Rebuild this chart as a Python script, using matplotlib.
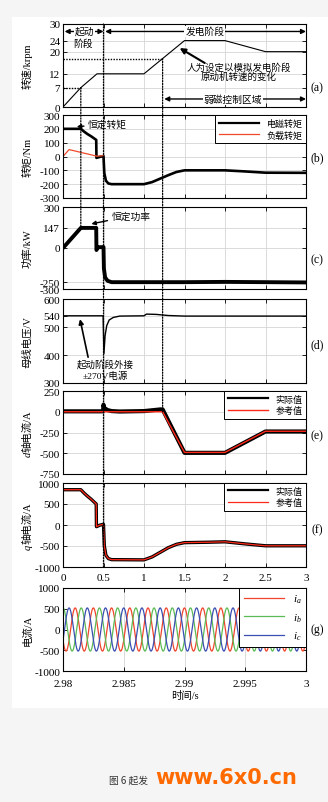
import numpy as np
import matplotlib
matplotlib.use("Agg")
import matplotlib.pyplot as plt
from matplotlib.patches import ConnectionPatch, Rectangle

plt.rcParams["font.family"] = ["Liberation Serif", "Noto Sans CJK SC"]
plt.rcParams["axes.unicode_minus"] = False
plt.rcParams["mathtext.fontset"] = "custom"
plt.rcParams["mathtext.it"] = "Liberation Serif:italic"

# (a) speed, krpm
t_speed = [0, 0.22, 0.42, 1.0, 1.5, 2.0, 2.5, 3.0]
speed = [0, 7, 12, 12, 24, 24, 20, 20]

# (b) electromagnetic / load torque, Nm
t_te = [0, 0.22, 0.26, 0.30, 0.35, 0.41, 0.413, 0.46, 0.50, 0.51, 0.53, 0.56, 0.60,
        1.0, 1.1, 1.2, 1.3, 1.4, 1.5, 2.0, 2.25, 2.5, 3.0]
te = [200, 200, 180, 163, 145, 120, -10, -2, 3, -120, -175, -195, -200,
      -200, -185, -160, -135, -112, -100, -100, -108, -117, -118]
t_tl = [0, 0.075, 0.42, 0.50]
tl = [0, 50, 2, 6]

# (c) power, kW
t_p = [0, 0.22, 0.41, 0.413, 0.43, 0.50, 0.505, 0.52, 0.55, 0.60, 1.5, 2.0, 3.0]
pw = [0, 147, 147, -15, 5, 7, -150, -215, -240, -250, -250, -248, -252]

# (d) DC bus voltage, V
t_v = [0, 0.495, 0.505, 0.52, 0.54, 0.57, 0.62, 0.70, 1.0, 1.03, 1.15, 1.3, 1.5, 3.0]
vdc = [540, 540, 405, 470, 505, 525, 534, 539, 540, 546, 545, 541, 539, 539]

# (e) d-axis current, A
t_id = [0, 0.495, 0.50, 0.51, 0.55, 0.60, 0.70, 1.0, 1.2, 1.23, 1.5, 2.0, 2.5, 3.0]
id_act = [5, 5, 85, 45, 20, 8, 3, 8, 28, 28, -495, -495, -238, -238]
t_id_ref = [0, 1.23, 1.5, 2.0, 2.5, 3.0]
id_ref = [0, 0, -490, -490, -235, -235]

# (f) q-axis current, A
t_iq = [0, 0.22, 0.26, 0.30, 0.35, 0.41, 0.413, 0.46, 0.50, 0.51, 0.53, 0.56, 0.60,
        1.0, 1.1, 1.2, 1.3, 1.4, 1.5, 1.8, 2.0, 2.25, 2.5, 3.0]
iq = [840, 840, 760, 690, 610, 500, -40, 0, 15, -500, -720, -800, -825,
      -830, -760, -650, -540, -460, -420, -410, -400, -450, -495, -495]

# (g) phase currents at the end of the run
f_abc = 667            # Hz
amp_abc = 520          # A
phase_abc = [-150, 90, -30]   # deg at t = 2.98 s
labels_abc = ["$i_a$", "$i_b$", "$i_c$"]
colors_abc = ["#f0452c", "#5cbb55", "#3b4fb2"]

H, W = 803, 328
fig = plt.figure(figsize=(W / 100, H / 100), dpi=100, facecolor="#f5f5f5")
fig.add_artist(Rectangle((12 / W, 1 - 709 / H), 1 - 12 / W, (709 - 18) / H,
                         transform=fig.transFigure, fc="white", ec="none", zorder=-5))


def add_ax(top, bottom):
    return fig.add_axes([63 / W, 1 - bottom / H, 243 / W, (bottom - top) / H])


def style(ax, xgrid_only=False):
    ax.tick_params(direction="in", top=True, right=True, labelsize=8, length=3,
                   width=0.6, pad=2)
    if xgrid_only:
        ax.grid(True, axis="x", color="#d6d6d6", lw=0.6)
    else:
        ax.grid(True, color="#d6d6d6", lw=0.6)
    ax.set_axisbelow(True)
    for s in ax.spines.values():
        s.set_linewidth(0.8)


LAB_X = -0.125


def split_ylabel(ax, sym, rest, y0=0.28):
    # italic axis letter below, the rest reading upward from it
    ax.text(LAB_X, y0, sym, transform=ax.transAxes, rotation=90, ha="right", va="top",
            fontsize=7.5, style="italic", family="Liberation Serif")
    ax.text(LAB_X, y0, rest, transform=ax.transAxes, rotation=90, ha="right", va="bottom",
            fontsize=7.5)


bounds = [(25, 108), (116, 199), (208, 290), (300, 384), (392, 475), (484, 568), (589, 672)]
axs = [add_ax(*b) for b in bounds]
ax_a, ax_b, ax_c, ax_d, ax_e, ax_f, ax_g = axs

for ax in axs[:6]:
    style(ax)
    ax.set_xlim(0, 3)
    ax.set_xticks(np.arange(0, 3.01, 0.5))
    if ax is not ax_f:
        ax.tick_params(labelbottom=False)
ax_f.set_xticklabels(["0", "0.5", "1", "1.5", "2", "2.5", "3"])
ax_f.tick_params(axis="x", pad=4)

lab_kw = dict(fontsize=7.5)
# (a)
ax_a.plot(t_speed, speed, color="k", lw=0.8)
ax_a.set_ylim(0, 30)
ax_a.set_yticks([0, 7, 12, 20, 24, 30])
ax_a.set_ylabel("转速/krpm", **lab_kw)
ax_a.plot([0, 0.22], [7, 7], color="k", lw=1, ls=(0, (1, 1)))
ax_a.plot([0, 1.23], [17.5, 17.5], color="k", lw=1, ls=(0, (1, 1)))
arr = dict(arrowstyle="<|-|>", color="k", lw=1, mutation_scale=7, shrinkA=0, shrinkB=0)
ax_a.annotate("", xy=(0.02, 27.3), xytext=(0.5, 27.3), arrowprops=arr)
ax_a.annotate("", xy=(0.52, 27.3), xytext=(3.0, 27.3), arrowprops=arr)
ax_a.annotate("", xy=(1.25, 2.9), xytext=(3.0, 2.9), arrowprops=arr)
box = dict(fc="white", ec="none", pad=0.6)
ax_a.text(0.27, 27.3, "起动", fontsize=7, ha="center", va="center", bbox=box)
ax_a.text(0.25, 23.0, "阶段", fontsize=7, ha="center", va="center")
ax_a.text(1.75, 27.3, "发电阶段", fontsize=7, ha="center", va="center", bbox=box)
ax_a.text(2.1, 2.9, "弱磁控制区域", fontsize=7, ha="center", va="center", bbox=box)
ax_a.annotate("", xy=(1.44, 21.3), xytext=(1.75, 15.9),
              arrowprops=dict(arrowstyle="-|>", color="k", lw=1.5, mutation_scale=8,
                              shrinkA=0, shrinkB=0))
ax_a.text(2.17, 14.5, "人为设定以模拟发电阶段", fontsize=6.8, ha="center", va="center")
ax_a.text(2.17, 11.3, "原动机转速的变化", fontsize=6.8, ha="center", va="center")

# (b)
ax_b.plot(t_te, te, color="k", lw=1.9, label="电磁转矩")
ax_b.plot(t_tl, tl, color="#f04a2a", lw=0.9, label="负载转矩")
ax_b.set_ylim(-300, 300)
ax_b.set_yticks(np.arange(-300, 301, 100))
ax_b.set_ylabel("转矩/Nm", **lab_kw)
ax_b.annotate("恒定转矩", xy=(0.17, 215), xytext=(0.31, 235), fontsize=7, va="center",
              arrowprops=dict(arrowstyle="-|>", color="k", lw=1, mutation_scale=6,
                              shrinkA=1, shrinkB=0))

# (c)
ax_c.plot(t_p, pw, color="k", lw=2.8)
ax_c.set_ylim(-300, 300)
ax_c.set_yticks([-300, -250, 0, 147, 300])
ax_c.set_ylabel("功率/kW", **lab_kw)
ax_c.annotate("恒定功率", xy=(0.35, 176), xytext=(0.6, 236), fontsize=7, va="center",
              arrowprops=dict(arrowstyle="-|>", color="k", lw=1, mutation_scale=6,
                              shrinkA=1, shrinkB=0))

# (d)
ax_d.plot(t_v, vdc, color="k", lw=1.0)
ax_d.set_ylim(300, 600)
ax_d.set_yticks([300, 400, 500, 540, 600])
ax_d.set_ylabel("母线电压/V", **lab_kw)
ax_d.annotate("", xy=(0.21, 528), xytext=(0.31, 392),
              arrowprops=dict(arrowstyle="-|>", color="k", lw=1.2, mutation_scale=7,
                              shrinkA=0, shrinkB=0))
ax_d.text(0.52, 368, "起动阶段外接", fontsize=6.8, ha="center", va="center")
ax_d.text(0.52, 327, "±270V电源", fontsize=6.8, ha="center", va="center")

# (e)
ax_e.plot(t_id, id_act, color="k", lw=3.0, label="实际值")
ax_e.plot(t_id_ref, id_ref, color="#ff2a1a", lw=1.0, label="参考值")
ax_e.set_ylim(-750, 250)
ax_e.set_yticks([-750, -500, -250, 0, 250])
split_ylabel(ax_e, "d", "轴电流/A")

# (f)
ax_f.plot(t_iq, iq, color="k", lw=2.4, label="实际值")
ax_f.plot(t_iq, iq, color="#ff2a1a", lw=0.9, label="参考值")
ax_f.set_ylim(-1000, 1000)
ax_f.set_yticks([-1000, -500, 0, 500, 1000])
split_ylabel(ax_f, "q", "轴电流/A")

# (g)
style(ax_g, xgrid_only=True)
tg = np.linspace(2.98, 3.0, 3000)
for ph, lab, col in zip(phase_abc, labels_abc, colors_abc):
    ax_g.plot(tg, amp_abc * np.sin(2 * np.pi * f_abc * (tg - 2.98) + np.radians(ph)),
              color=col, lw=0.9, label=lab)
ax_g.set_xlim(2.98, 3.0)
ax_g.set_xticks([2.98, 2.985, 2.99, 2.995, 3.0])
ax_g.set_xticklabels(["2.98", "2.985", "2.99", "2.995", "3"])
ax_g.tick_params(axis="x", pad=6)
ax_g.set_ylim(-1000, 1000)
ax_g.set_yticks([-1000, -500, 0, 500, 1000])
ax_g.set_ylabel("电流/A", **lab_kw)
ax_g.set_xlabel("时间/s", fontsize=7.5, labelpad=1)

for ax in (ax_a, ax_b, ax_c, ax_d, ax_g):
    ax.yaxis.set_label_coords(LAB_X, 0.5)

leg_kw = dict(loc="upper right", bbox_to_anchor=(1, 1), borderaxespad=0, frameon=True,
              fancybox=False, edgecolor="k", framealpha=1)
for ax in (ax_b, ax_e, ax_f):
    lg = ax.legend(fontsize=6.5, handlelength=4.5, labelspacing=0.3, **leg_kw)
    lg.get_frame().set_linewidth(0.7)
    for ln in lg.get_lines():
        ln.set_linewidth(min(ln.get_linewidth(), 1.6))
lg = ax_g.legend(fontsize=8, handlelength=3.6, labelspacing=0.55, **leg_kw)
lg.get_frame().set_linewidth(0.7)

# dotted guide lines running across panels
dots = dict(color="k", lw=0.9, linestyle=(0, (1, 1.2)))
for x, axA, yA, axB, yB in [(0.22, ax_a, 7, ax_c, 147),
                            (0.5, ax_a, 30, ax_f, -1000),
                            (1.23, ax_a, 17.5, ax_e, 0)]:
    fig.add_artist(ConnectionPatch(xyA=(x, yA), coordsA=axA.transData,
                                   xyB=(x, yB), coordsB=axB.transData, **dots))

for lab, ypx in zip("abcdefg", [88, 158, 260, 345, 436, 530, 630]):
    fig.text(317 / W, 1 - ypx / H, f"({lab})", fontsize=8.5, ha="center", va="center")

fig.text(109 / W, 1 - 781 / H, "图 6 起发", fontsize=7, color="#333333",
         family="Noto Sans CJK SC", va="center")
fig.text(155 / W, 1 - 778 / H, "www.6x0.cn", fontsize=15, color="#ff6a00",
         fontweight="bold", family="DejaVu Sans", va="center")

fig.savefig("out.png", dpi=100, facecolor=fig.get_facecolor())
